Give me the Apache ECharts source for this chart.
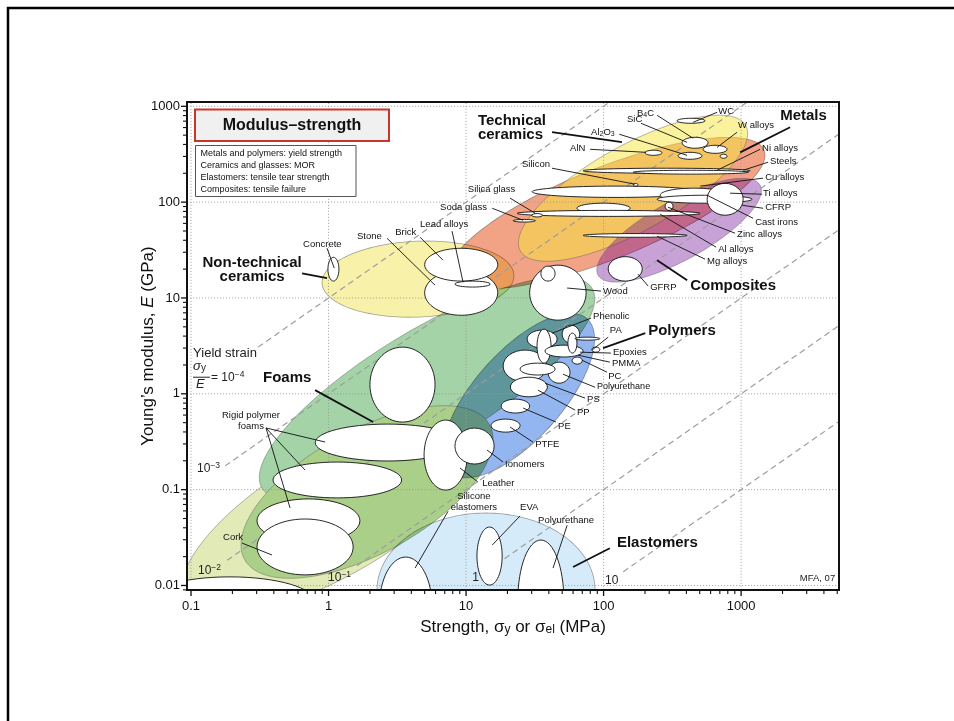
<!DOCTYPE html>
<html>
<head>
<meta charset="utf-8">
<title>Modulus–strength</title>
<script src="https://cdn.jsdelivr.net/npm/echarts@6.0.0/dist/echarts.min.js"></script>
<style>
  html, body { margin: 0; padding: 0; background: #ffffff; }
  #chart { width: 954px; height: 721px; }
</style>
</head>
<body>
<div id="chart"></div>
<script>
const FONT = '"Liberation Sans", Arial, Helvetica, sans-serif';

// ---- axes: strength (MPa) and Young's modulus (GPa), both logarithmic ----
const xRange = [0.0935, 5150];
const yRange = [0.00897, 1109];
const xTicks = [0.1, 1, 10, 100, 1000];
const xTickLabels = ['0.1', '1', '10', '100', '1000'];
const yTicks = [0.01, 0.1, 1, 10, 100, 1000];
const yTickLabels = ['0.01', '0.1', '1', '10', '100', '1000'];

// ---- yield strain guide lines, E = sigma / strain ----
const strainValues = [1e-4, 1e-3, 1e-2, 1e-1, 1, 10];
const strainStartStrength = [0.307, 0.177, 0.183, 1.61, 12.6, 139];
const strainLabelText = ['10{sup|−3}', '10{sup|−2}', '10{sup|−1}', '1', '10'];
const strainLabelAt = [[0.1106, 0.166], [0.1124, 0.01416], [0.992, 0.01198], [11.1, 0.01212], [102.6, 0.01128]];

// ---- material family envelopes: long-axis end points [MPa, GPa] and half-width / half-length ----
const envelopeNames = ['Foams', 'Natural materials', 'Rigid polymer foams', 'Polymers', 'Elastomers',
  'Non-technical ceramics', 'Metals', 'Technical ceramics', 'Composites'];
const envelopeFrom = [[0.0904, 0.00706], [0.328, 0.104], [0.245, 0.0187], [7.65, 0.151], [2.25, 0.00897],
  [0.897, 14.3], [7.65, 16.9], [24.8, 31.0], [91.2, 17.3]];
const envelopeTo = [[13.7, 0.472], [82.4, 12.6], [14.8, 0.477], [75.9, 6.07], [86.7, 0.00897],
  [22.3, 17.3], [1469, 348], [1081, 630], [1374, 150]];
const envelopeAspect = [0.357, 0.30, 0.44, 0.427, 0.706, 0.395, 0.27, 0.333, 0.32];

// ---- individual materials: strength range [MPa] and modulus range [GPa] ----
const materialNames = [
  'WC', 'B4C', 'W alloys', 'Tungsten', 'Al2O3', 'AlN', 'Steels', 'Ni alloys', 'Cu alloys', 'Silicon',
  'Cast irons', 'Ti alloys', 'CFRP', 'Zinc alloys', 'SiC', 'Al alloys', 'Silica glass', 'Soda glass', 'Mg alloys', 'GFRP',
  'Concrete', 'Stone', 'Brick', 'Lead alloys', 'Wood', 'Wood (parallel)',
  'Flexible foams', 'Rigid foams', 'Leather', 'Ionomers', 'Foam A', 'Foam B', 'Cork', 'Foam C',
  'Polymer cluster', 'PP', 'PE', 'PTFE', 'PS', 'Polyurethane', 'Phenolic', 'Phenolic (filled)', 'PA', 'Epoxies',
  'PA (filled)', 'PMMA', 'PC', 'Polyester',
  'Silicone elastomers', 'EVA', 'Polyurethane elastomers'
];
const materialStrength = [
  [342, 547], [372, 575], [529, 791], [703, 791], [348, 520], [200, 266], [70.9, 1163], [164, 1130], [30.2, 503], [164, 178],
  [258, 791], [245, 1202], [566, 1035], [64, 156], [280, 320], [23.5, 503], [30, 36], [22, 32], [71, 405], [108, 191],
  [0.99, 1.19], [5, 17], [5, 17], [8.3, 15], [29, 74.6], [35, 44.4],
  [2.0, 5.95], [0.8, 9.0], [4.95, 10.2], [8.3, 16], [0.395, 3.4], [0.302, 1.69], [0.302, 1.51], [0.046, 0.8],
  [18.6, 38.8], [21, 39], [18, 29], [15.2, 24.7], [39.5, 57], [24.7, 44.4], [27.8, 45.9], [32.8, 41.5], [50, 67], [37.5, 71],
  [55, 64], [59, 70], [62, 94], [82, 94],
  [2.34, 5.66], [12, 18.3], [23.8, 51.4]
];
const materialModulus = [
  [665, 750], [365, 475], [323, 392], [287, 316], [280, 331], [308, 348], [200, 226], [196, 215], [112, 147], [147, 157],
  [100, 140], [97.5, 118], [73, 157], [76.5, 97.5], [82, 100], [71, 82], [70, 76], [62, 66], [43, 47], [15, 27],
  [15, 26.6], [6.6, 19.5], [15, 33], [13, 15], [5.87, 22], [15, 21.5],
  [0.507, 3.07], [0.199, 0.483], [0.099, 0.532], [0.185, 0.439], [0.082, 0.194], [0.028, 0.08], [0.0129, 0.0494], [0.0037, 0.0123],
  [1.33, 2.86], [0.93, 1.49], [0.63, 0.88], [0.398, 0.545], [1.29, 2.14], [1.57, 2.09], [3.0, 4.62], [2.09, 4.73], [3.38, 5.2], [2.42, 3.22],
  [2.66, 4.3], [2.04, 2.42], [3.63, 3.9], [2.72, 3.07],
  [0.00181, 0.0198], [0.0101, 0.0407], [0.00167, 0.0298]
];

// ---- family names with leaders ----
const familyLabels = ['Technical\nceramics', 'Metals', 'Composites', 'Non-technical\nceramics', 'Polymers', 'Foams', 'Elastomers'];
const familyLabelAt = [[12.2, 597], [1923, 787], [426, 13.3], [0.278, 19.7], [211, 4.51], [0.334, 1.46], [125, 0.0281]];
const familyLabelAlign = ['left', 'left', 'left', 'center', 'left', 'left', 'left'];
const familyLeaders = [
  [[[42.2, 539], [136, 424]]],
  [[[2270, 604], [984, 331]]],
  [[[405, 15.3], [245, 24.8]]],
  [[[0.642, 18.1], [0.975, 16.1]]],
  [[[201, 4.30], [99.1, 3.0]]],
  [[[0.798, 1.093], [2.11, 0.507]]],
  [[[111, 0.0245], [60, 0.0156]]]
];

// ---- material names with leaders ----
const materialLabels = [
  'WC', 'W alloys', 'B{s|4}C', 'SiC', 'Al{s|2}O{s|3}', 'AlN', 'Silicon', 'Silica glass', 'Soda glass', 'Lead alloys',
  'Brick', 'Stone', 'Concrete', 'Ni alloys', 'Steels', 'Cu alloys', 'Ti alloys', 'CFRP', 'Cast irons', 'Zinc alloys',
  'Al alloys', 'Mg alloys', 'GFRP', 'Wood',
  'Phenolic', 'PA', 'Epoxies', 'PMMA', 'PC', '{small|Polyurethane}', 'PS', 'PP', 'PE', 'PTFE', 'Ionomers', 'Leather',
  'Silicone\nelastomers', 'EVA', 'Polyurethane', 'Rigid polymer\nfoams', 'Cork'
];
const materialLabelAt = [
  [681, 881], [951, 634], [175, 845], [148, 723], [81.1, 536], [57.1, 361], [25.5, 245], [10.3, 136], [6.47, 87.4], [4.63, 58.9],
  [3.05, 48.0], [1.61, 44.1], [0.653, 36.4], [1421, 365], [1625, 267], [1496, 182], [1445, 122], [1496, 87.4], [1265, 61.7], [935, 45.7],
  [681, 32.3], [566, 24.2], [218, 12.8], [99.1, 11.8],
  [83.9, 6.46], [111, 4.62], [117, 2.69], [115, 2.09], [108, 1.53], [89.7, 1.19], [75.9, 0.87], [64.1, 0.637], [46.7, 0.46], [31.8, 0.299],
  [19.2, 0.185], [13.1, 0.117], [11.4, 0.0751], [24.7, 0.066], [33.4, 0.0476], [0.273, 0.526], [0.171, 0.0317]
];
const materialLeaders = [
  [[[669, 866], [448, 681]]], [[[935, 536], [669, 373]]], [[[245, 805], [448, 464]]], [[[187, 665], [405, 421]]],
  [[[130, 511], [405, 308]]], [[[79.8, 356], [204, 331]]], [[[42.2, 226], [169, 154]]], [[[20.9, 110], [31.8, 76.6]]],
  [[[15.5, 86.3], [26.0, 64.7]]], [[[7.91, 49.8], [9.51, 14.6]]], [[[4.63, 43.1], [6.80, 24.8]]], [[[2.66, 42.0], [5.95, 13.6]]],
  [[[0.975, 33.1], [1.10, 20.5]]], [[[1374, 356], [669, 215]]], [[[1571, 261], [1035, 215]]], [[[1445, 178], [504, 147]]],
  [[[1421, 121], [832, 124]]], [[[1445, 86.3], [1017, 92.8]]], [[[1222, 67.9], [566, 118]]], [[[904, 47.4], [294, 88.5]]],
  [[[658, 33.9], [258, 74.8]]], [[[547, 25.4], [245, 44.1]]], [[[211, 13.3], [178, 17.7]]], [[[95.9, 11.8], [54.3, 12.7]]],
  [[[81.1, 6.16], [42.2, 4.29]]], [[[108, 3.90], [82.4, 2.86]]], [[[113, 2.66], [67.5, 2.72]]], [[[111, 2.14], [65.3, 2.53]]],
  [[[106, 1.68], [69.8, 2.24]]], [[[86.7, 1.17], [50.7, 1.60]]], [[[73.3, 0.902], [37.6, 1.29]]], [[[62.1, 0.676], [33.4, 1.09]]],
  [[[45.1, 0.507], [26, 0.71]]], [[[30.7, 0.313], [20.9, 0.45]]], [[[18.6, 0.194], [14.2, 0.259]]], [[[12.2, 0.12], [9.04, 0.168]]],
  [[[7.39, 0.0593], [4.26, 0.0152]]], [[[24.7, 0.0532], [15.5, 0.0264]]], [[[54.3, 0.0424], [42.9, 0.0152]]],
  [[[0.351, 0.44], [0.944, 0.314]], [[0.351, 0.44], [0.675, 0.16]], [[0.351, 0.44], [0.525, 0.0644]]],
  [[[0.235, 0.0277], [0.388, 0.0208]]]
];
const materialLabelAlign = materialLabels.map(t => (t.indexOf('\n') >= 0 ? 'center' : 'left'));

// ---- styling (kept apart from the values above) ----
const envelopeFill = ['#e2eab8', '#a3d3a6', '#aacf88', '#93b5f0', '#d5ebfa', '#f7f1a9', '#f2a386',
  'rgba(245,229,57,0.5)', 'rgba(106,0,147,0.37)'];
const envelopeMultiply = [false, false, false, true, true, true, true, false, false];
const INK = '#111111';
const RICH_SMALL = {
  s: { fontSize: 7, fontFamily: FONT, verticalAlign: 'bottom', lineHeight: 6, fill: INK },
  small: { fontSize: 9, fontFamily: FONT, fill: INK }
};
const RICH_STRAIN = {
  sup: { fontSize: 8.5, fontFamily: FONT, verticalAlign: 'top', lineHeight: 9, fill: '#222' }
};

function decadeMinors(first, range) {
  const out = [];
  for (let d = first; d <= range[1]; d *= 10) {
    for (let k = 2; k <= 9; k++) {
      const v = +(k * d).toPrecision(3);
      if (v > range[0] && v < range[1]) out.push(v);
    }
  }
  return out;
}
const xMinor = decadeMinors(0.01, xRange);
const yMinor = decadeMinors(0.001, yRange);

function ellipsePoints(cx, cy, a, b, ang, n) {
  const pts = [];
  const ca = Math.cos(ang), sa = Math.sin(ang);
  for (let i = 0; i < n; i++) {
    const t = (i / n) * Math.PI * 2;
    const x = a * Math.cos(t), y = b * Math.sin(t);
    pts.push([cx + x * ca - y * sa, cy + x * sa + y * ca]);
  }
  return pts;
}
function seg(a, b, w, color, dash) {
  return { type: 'line', shape: { x1: a[0], y1: a[1], x2: b[0], y2: b[1] },
    style: { stroke: color || INK, lineWidth: w, lineDash: dash || null } };
}

function renderEnvelope(params, api) {
  const i = params.dataIndex;
  const p1 = api.coord([api.value(0), api.value(1)]);
  const p2 = api.coord([api.value(2), api.value(3)]);
  const dx = p2[0] - p1[0], dy = p2[1] - p1[1];
  const a = Math.hypot(dx, dy) / 2;
  const pts = ellipsePoints((p1[0] + p2[0]) / 2, (p1[1] + p2[1]) / 2, a, a * api.value(4), Math.atan2(dy, dx), 160);
  return { type: 'polygon', name: envelopeMultiply[i] ? 'envelope-multiply' : 'envelope',
    shape: { points: pts },
    style: { fill: envelopeFill[i], stroke: 'rgba(90,90,90,0.55)', lineWidth: 0.8 } };
}

function renderGuides(params, api) {
  const ch = [];
  const bl = api.coord([xRange[0], yRange[0]]);
  const tr = api.coord([xRange[1], yRange[1]]);
  xTicks.forEach(v => {
    const p = api.coord([v, yRange[0]]);
    ch.push(seg([p[0], bl[1]], [p[0], tr[1]], 0.8, '#9a9a9a', [1.2, 1.8]));
  });
  yTicks.forEach(v => {
    const p = api.coord([xRange[0], v]);
    ch.push(seg([bl[0], p[1]], [tr[0], p[1]], 0.8, '#9a9a9a', [1.2, 1.8]));
  });
  strainValues.forEach((eps, i) => {
    const s0 = strainStartStrength[i];
    const s1 = xRange[1];
    const a = api.coord([s0, s0 / (1000 * eps)]);
    const b = api.coord([s1, s1 / (1000 * eps)]);
    ch.push(seg(a, b, 1.2, '#9d9d9d', [6, 4]));
  });
  return { type: 'group', children: ch };
}

function renderMaterial(params, api) {
  const p1 = api.coord([api.value(0), api.value(2)]);
  const p2 = api.coord([api.value(1), api.value(3)]);
  return { type: 'ellipse',
    shape: { cx: (p1[0] + p2[0]) / 2, cy: (p1[1] + p2[1]) / 2, rx: Math.abs(p2[0] - p1[0]) / 2, ry: Math.abs(p2[1] - p1[1]) / 2 },
    style: { fill: '#ffffff', stroke: INK, lineWidth: 0.9 } };
}

function labelRenderer(texts, anchors, aligns, leaders, font, lineW, lineH) {
  return function (params, api) {
    const i = params.dataIndex;
    const ch = [];
    (leaders[i] || []).forEach(s => ch.push(seg(api.coord(s[0]), api.coord(s[1]), lineW)));
    const p = api.coord(anchors[i]);
    ch.push({ type: 'text', x: p[0], y: p[1],
      style: { text: texts[i], font: font, fill: INK, align: aligns[i], verticalAlign: 'middle', lineHeight: lineH, rich: RICH_SMALL } });
    return { type: 'group', children: ch };
  };
}

function renderStrainLabels(params, api) {
  const ch = [];
  strainLabelText.forEach((t, i) => {
    const p = api.coord(strainLabelAt[i]);
    ch.push({ type: 'text', x: p[0], y: p[1],
      style: { text: t, font: '12px ' + FONT, fill: '#222', align: 'left', verticalAlign: 'middle', lineHeight: 15, rich: RICH_STRAIN } });
  });
  // yield strain sigma_y / E = 10^-4
  const head = api.coord([0.1035, 2.66]);
  ch.push({ type: 'text', x: head[0], y: head[1], style: { text: 'Yield strain', font: '13px ' + FONT, fill: '#222', align: 'left', verticalAlign: 'middle' } });
  const num = api.coord([0.1035, 1.95]);
  ch.push({ type: 'text', x: num[0], y: num[1], style: { text: 'σ{sub|y}', font: 'italic 13px ' + FONT, fill: '#222', align: 'left', verticalAlign: 'middle', lineHeight: 15,
    rich: { sub: { fontSize: 10, fontFamily: FONT, fontStyle: 'normal', verticalAlign: 'bottom', lineHeight: 9, fill: '#222' } } } });
  const b0 = api.coord([0.1035, 1.49]), b1 = api.coord([0.1375, 1.49]);
  ch.push(seg(b0, b1, 1, '#222'));
  const den = api.coord([0.1087, 1.25]);
  ch.push({ type: 'text', x: den[0], y: den[1], style: { text: 'E', font: 'italic 13px ' + FONT, fill: '#222', align: 'left', verticalAlign: 'middle' } });
  const eq = api.coord([0.1398, 1.49]);
  ch.push({ type: 'text', x: eq[0], y: eq[1], style: { text: '= 10{sup|−4}', font: '12px ' + FONT, fill: '#222', align: 'left', verticalAlign: 'middle', lineHeight: 15, rich: RICH_STRAIN } });
  const mfa = api.coord([4830, 0.01183]);
  ch.push({ type: 'text', x: mfa[0], y: mfa[1], style: { text: 'MFA, 07', font: '9.5px ' + FONT, fill: '#222', align: 'right', verticalAlign: 'middle' } });
  return { type: 'group', children: ch };
}

function renderAxes(params, api) {
  const ch = [];
  const bl = api.coord([xRange[0], yRange[0]]);
  const bottom = bl[1], left = bl[0];
  xTicks.forEach((v, i) => {
    const p = api.coord([v, yRange[0]]);
    ch.push(seg([p[0], bottom], [p[0], bottom + 6], 1.3));
    ch.push({ type: 'text', x: p[0], y: bottom + 16, style: { text: xTickLabels[i], font: '13px ' + FONT, fill: INK, align: 'center', verticalAlign: 'middle' } });
  });
  xMinor.forEach(v => {
    const p = api.coord([v, yRange[0]]);
    ch.push(seg([p[0], bottom], [p[0], bottom + 4], 1.1));
  });
  yTicks.forEach((v, i) => {
    const p = api.coord([xRange[0], v]);
    ch.push(seg([left, p[1]], [left - 6, p[1]], 1.3));
    ch.push({ type: 'text', x: left - 7, y: p[1], style: { text: yTickLabels[i], font: '13px ' + FONT, fill: INK, align: 'right', verticalAlign: 'middle' } });
  });
  yMinor.forEach(v => {
    const p = api.coord([xRange[0], v]);
    ch.push(seg([left, p[1]], [left - 4, p[1]], 1.1));
  });
  return { type: 'group', children: ch };
}

const GRID = { left: 187, top: 102, width: 652, height: 488 };

const option = {
  animation: false,
  backgroundColor: '#ffffff',
  grid: GRID,
  xAxis: { type: 'log', logBase: 10, min: xRange[0], max: xRange[1],
    axisLine: { show: false }, axisTick: { show: false }, axisLabel: { show: false }, splitLine: { show: false },
    name: 'Strength, σ{s|y} or σ{s|el} (MPa)', nameLocation: 'middle', nameGap: 29,
    nameTextStyle: { fontFamily: FONT, fontSize: 17, color: INK,
      rich: { s: { fontFamily: FONT, fontSize: 12, verticalAlign: 'bottom', lineHeight: 12, color: INK } } } },
  yAxis: { type: 'log', logBase: 10, min: yRange[0], max: yRange[1],
    axisLine: { show: false }, axisTick: { show: false }, axisLabel: { show: false }, splitLine: { show: false },
    name: 'Young’s modulus, {i|E} (GPa)', nameLocation: 'middle', nameGap: 30,
    nameTextStyle: { fontFamily: FONT, fontSize: 17, color: INK,
      rich: { i: { fontFamily: FONT, fontSize: 17, fontStyle: 'italic', color: INK } } } },
  graphic: [
    { type: 'rect', z: 100, silent: true, shape: { x: 8, y: 8, width: 980, height: 760 },
      style: { fill: 'none', stroke: '#000', lineWidth: 2.5 } },
    { type: 'rect', z: 100, silent: true, shape: { x: GRID.left, y: GRID.top, width: GRID.width, height: GRID.height },
      style: { fill: 'none', stroke: '#111', lineWidth: 2 } },
    { type: 'rect', z: 100, silent: true, shape: { x: 195, y: 109.5, width: 194, height: 31.5 },
      style: { fill: '#f0f0f0', stroke: '#c8372d', lineWidth: 2 } },
    { type: 'text', z: 101, silent: true, x: 292, y: 125.5,
      style: { text: 'Modulus–strength', font: 'bold 16px ' + FONT, fill: INK, align: 'center', verticalAlign: 'middle' } },
    { type: 'rect', z: 100, silent: true, shape: { x: 195.5, y: 145.5, width: 160.5, height: 51 },
      style: { fill: '#ffffff', stroke: '#555', lineWidth: 1 } },
    { type: 'text', z: 101, silent: true, x: 200.5, y: 147.8,
      style: { text: 'Metals and polymers: yield strength\nCeramics and glasses: MOR\nElastomers: tensile tear strength\nComposites: tensile failure',
        font: '9px ' + FONT, fill: INK, align: 'left', verticalAlign: 'top', lineHeight: 11.8 } }
  ],
  series: [
    { type: 'custom', name: 'envelopes', clip: true, renderItem: renderEnvelope,
      encode: { x: [0, 2], y: [1, 3] },
      data: envelopeNames.map((n, i) => ({ name: n, value: [envelopeFrom[i][0], envelopeFrom[i][1], envelopeTo[i][0], envelopeTo[i][1], envelopeAspect[i]] })) },
    { type: 'custom', name: 'guides', clip: true, renderItem: renderGuides, data: [[1, 1]] },
    { type: 'custom', name: 'materials', clip: true, renderItem: renderMaterial,
      encode: { x: [0, 1], y: [2, 3] },
      data: materialNames.map((n, i) => ({ name: n, value: [materialStrength[i][0], materialStrength[i][1], materialModulus[i][0], materialModulus[i][1]] })) },
    { type: 'custom', name: 'strain labels', clip: false, renderItem: renderStrainLabels, data: [[1, 1]] },
    { type: 'custom', name: 'material labels', clip: false,
      renderItem: labelRenderer(materialLabels, materialLabelAt, materialLabelAlign, materialLeaders, '9.5px ' + FONT, 0.9, 11),
      data: materialLabels.map((t, i) => materialLabelAt[i]) },
    { type: 'custom', name: 'family labels', clip: false,
      renderItem: labelRenderer(familyLabels, familyLabelAt, familyLabelAlign, familyLeaders, 'bold 15px ' + FONT, 1.8, 14),
      data: familyLabels.map((t, i) => familyLabelAt[i]) },
    { type: 'custom', name: 'axes', clip: false, renderItem: renderAxes, data: [[1, 1]] }
  ]
};

const chart = echarts.init(document.getElementById('chart'), null, { renderer: 'canvas' });
chart.setOption(option);

// overlapping translucent envelopes darken each other (multiply compositing)
function applyEnvelopeBlend() {
  const zr = chart.getZr();
  zr.storage.getDisplayList(true).forEach(el => {
    if (el.name === 'envelope-multiply' && el.style) {
      el.style.blend = 'multiply';
      el.markRedraw();
    }
  });
  zr.refreshImmediately();
}
applyEnvelopeBlend();
chart.on('finished', () => {
  let pending = false;
  chart.getZr().storage.getDisplayList(true).forEach(el => {
    if (el.name === 'envelope-multiply' && el.style && el.style.blend !== 'multiply') pending = true;
  });
  if (pending) applyEnvelopeBlend();
});
</script>
</body>
</html>
